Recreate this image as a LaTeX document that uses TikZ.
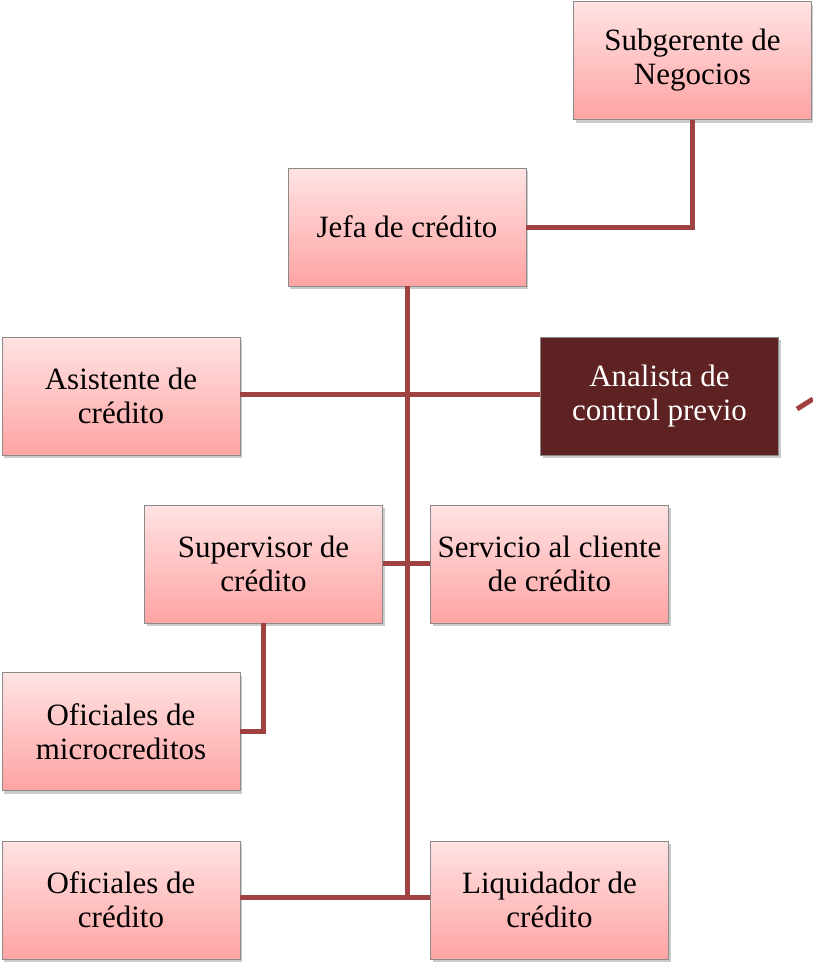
\documentclass[tikz,border=0pt]{standalone}
\usepackage{fontspec}
\setmainfont{Liberation Serif}
\usetikzlibrary{shadows}
\definecolor{linecol}{HTML}{A04242}
\definecolor{boxtop}{HTML}{FFE3E3}
\definecolor{boxbot}{HTML}{FFA3A3}
\definecolor{darkbox}{HTML}{5E2222}
\definecolor{boxedge}{HTML}{8A8A8A}
\begin{document}
\begin{tikzpicture}[x=1pt,y=-1pt,
  orgbox/.style={rectangle, minimum width=238pt, minimum height=118pt, inner sep=0pt,
    draw=boxedge, line width=0.8pt, top color=boxtop, bottom color=boxbot,
    align=center, font=\fontsize{31}{34}\selectfont,
    drop shadow={shadow xshift=2pt, shadow yshift=-3pt, fill=black!45, opacity=0.45}},
  darkorg/.style={orgbox, top color=darkbox, bottom color=darkbox, fill=darkbox, text=white},
  conn/.style={draw=linecol, line width=5pt}]
\useasboundingbox (0,0) rectangle (813,962);
\node[orgbox] (sub) at (692.5,60.5) {Subgerente de\\Negocios};
\node[orgbox] (jefa) at (407,227) {Jefa de crédito};
\node[orgbox] (asis) at (121,396) {Asistente de\\crédito};
\node[darkorg] (anal) at (659.5,396) {Analista de\\control previo};
\node[orgbox] (sup) at (263.5,564) {Supervisor de\\crédito};
\node[orgbox] (serv) at (549.5,564) {Servicio al cliente\\de crédito};
\node[orgbox] (micro) at (121,731.5) {Oficiales de\\microcreditos};
\node[orgbox] (ofic) at (121,900) {Oficiales de\\crédito};
\node[orgbox] (liq) at (549.5,900) {Liquidador de\\crédito};
\coordinate (s1) at (797,409);
\coordinate (s2) at (813,399);
\draw[conn] (sub.south) |- (jefa.east);
\draw[conn] (jefa.south) -- (jefa.south |- 0,897);
\draw[conn] (asis.east |- 0,394) -- (anal.west |- 0,394);
\draw[conn] (sup.east |- 0,563) -- (serv.west |- 0,563);
\draw[conn] (sup.south) |- (micro.east);
\draw[conn] (ofic.east |- 0,897) -- (liq.west |- 0,897);
\draw[conn] (s1) -- (s2);
\end{tikzpicture}
\end{document}
